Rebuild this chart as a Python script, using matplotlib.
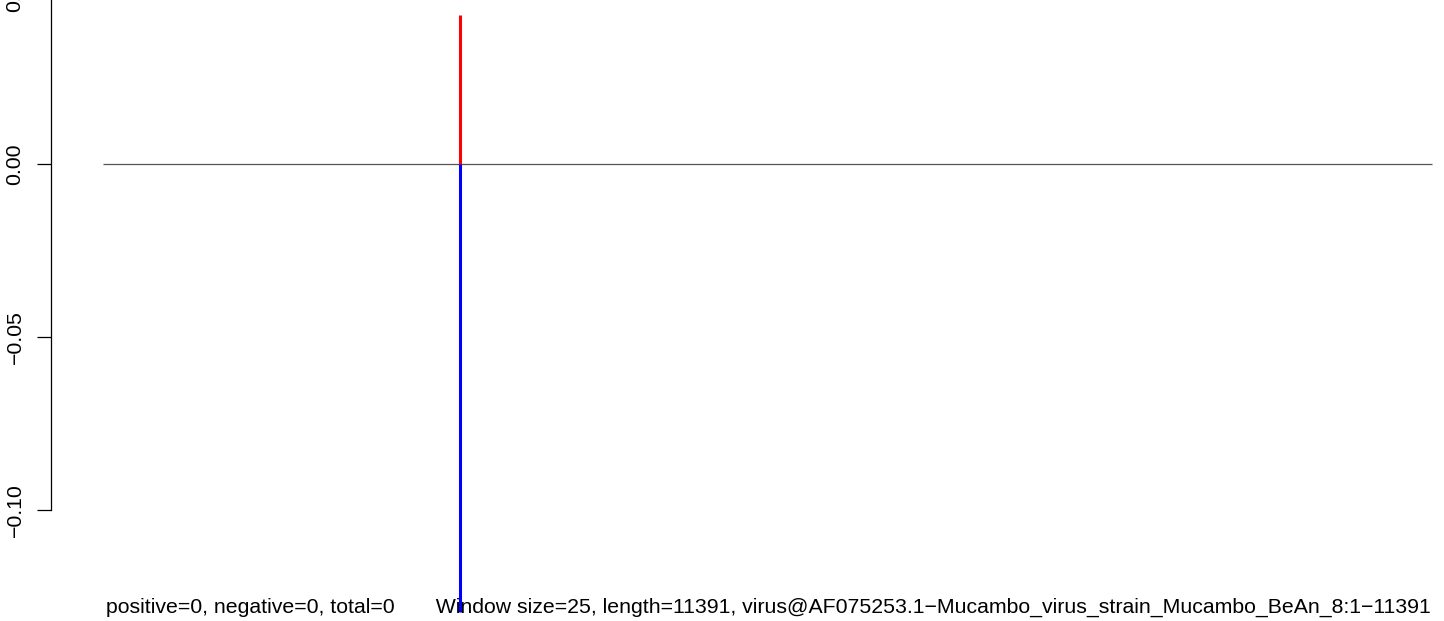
import matplotlib
matplotlib.use("Agg")
import matplotlib.pyplot as plt

# data
seq_length = 11391
window_pos = 3060
pos_peak = 0.043
neg_peak = -0.1295
yticks = [0.05, 0.00, -0.05, -0.10]
ytick_labels = ["0.05", "0.00", "\u22120.05", "\u22120.10"]
xlabel = ("positive=0, negative=0, total=0       Window size=25, length=11391, "
          "virus@AF075253.1\u2212Mucambo_virus_strain_Mucambo_BeAn_8:1\u221211391")

plt.rcParams['font.family'] = ['Liberation Sans', 'DejaVu Sans']
FS = 15.32

W, H = 1444, 621
fig = plt.figure(figsize=(W / 100, H / 100), dpi=100)
ax = fig.add_axes([0, 0, 1, 1])

# pixel mapping
x0_px, x1_px = 103, 1432
px_per_x = (x1_px - x0_px) / seq_length
y0_px = 164
px_per_y = 3460
spine_x = (51 - x0_px) / px_per_x

ax.plot([0, seq_length], [0, 0], color="#555555", lw=0.9, solid_capstyle="butt")
ax.plot([window_pos, window_pos], [0, pos_peak], color="#ff0000", lw=2.2, solid_capstyle="butt")
ax.plot([window_pos, window_pos], [neg_peak, 0], color="#0000ff", lw=2.2, solid_capstyle="butt")

for s in ["top", "right", "bottom"]:
    ax.spines[s].set_visible(False)
ax.spines["left"].set_position(("data", spine_x))
ax.spines["left"].set_bounds(min(yticks), max(yticks))
ax.spines["left"].set_linewidth(0.9)
ax.set_xticks([])
ax.set_yticks(yticks)
ax.set_yticklabels(ytick_labels, rotation=90, va="center", fontsize=FS)
ax.tick_params(axis="y", length=10, width=0.9, pad=9)
ax.patch.set_visible(False)

ax.set_xlim(-x0_px / px_per_x, (W - x0_px) / px_per_x)
ax.set_ylim(-(H - y0_px) / px_per_y, y0_px / px_per_y)

# tick labels that fall outside the view (drawn partly, as in the reference)
ylo, yhi = ax.get_ylim()
for t, lab in zip(yticks, ytick_labels):
    if t > yhi or t < ylo:
        ax.annotate(lab, xy=(spine_x, t), xycoords="data",
                    xytext=(-19, 0), textcoords="offset points",
                    ha="right", va="center", rotation=90, fontsize=FS,
                    annotation_clip=False)

fig.text(768 / W, (H - 613) / H, xlabel, ha="center", va="baseline", fontsize=FS)

fig.savefig("out.png", dpi=100)
